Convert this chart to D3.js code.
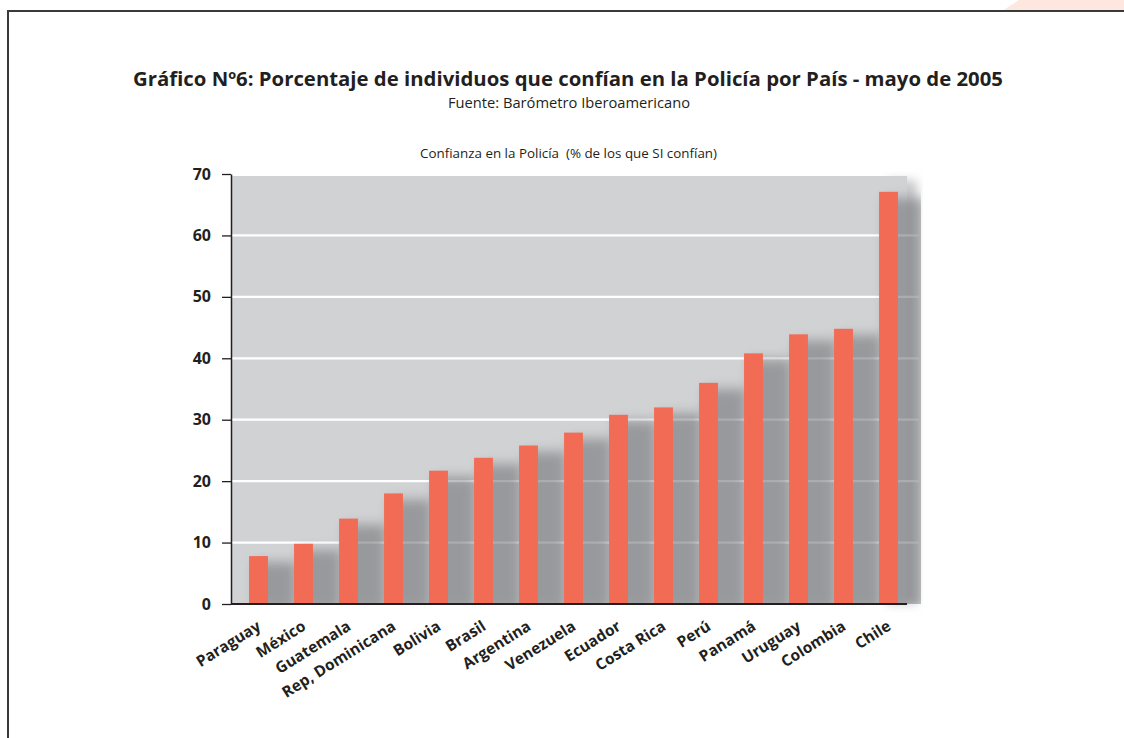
<!DOCTYPE html>
<html>
<head>
<meta charset="utf-8">
<script src="https://cdn.jsdelivr.net/npm/d3@7"></script>
<style>
  html, body { margin: 0; padding: 0; background: #ffffff; }
  svg { display: block; }
  text { font-family: "Open Sans", "DejaVu Sans", sans-serif; fill: #231f20; }
</style>
</head>
<body>
<svg id="chart" width="1124" height="738"></svg>
<script>
// ---- data ----
const countries = ["Paraguay", "México", "Guatemala", "Rep, Dominicana", "Bolivia", "Brasil",
  "Argentina", "Venezuela", "Ecuador", "Costa Rica", "Perú", "Panamá", "Uruguay", "Colombia", "Chile"];
const confianza = [7.8, 9.8, 13.9, 18.0, 21.7, 23.8, 25.8, 27.9, 30.8, 32.0, 36.0, 40.8, 43.9, 44.8, 67.1];
const yTicks = [0, 10, 20, 30, 40, 50, 60, 70];
const titleText = "Gráfico Nº6: Porcentaje de individuos que confían en la Policía por País - mayo de 2005";
const sourceText = "Fuente: Barómetro Iberoamericano";
const subtitleText = "Confianza en la Policía  (% de los que SI confían)";

const data = countries.map((c, i) => ({ country: c, value: confianza[i] }));

const svg = d3.select("#chart");

// defs: filters
const defs = svg.append("defs");
const sh = defs.append("filter").attr("id", "barShadow")
  .attr("x", "-100%").attr("y", "-20%").attr("width", "300%").attr("height", "140%");
sh.append("feGaussianBlur").attr("stdDeviation", 6);

const edge = defs.append("filter").attr("id", "edgeShadow")
  .attr("x", "-20%").attr("y", "-20%").attr("width", "140%").attr("height", "140%");
edge.append("feGaussianBlur").attr("stdDeviation", 5);

// peach corner at the top right
svg.append("polygon")
  .attr("points", "1002,11 1019,0 1124,0 1124,11")
  .attr("fill", "#fde7de");

// frame
svg.append("rect")
  .attr("x", 8).attr("y", 11).attr("width", 1140).attr("height", 760)
  .attr("fill", "none").attr("stroke", "#3a3a3a").attr("stroke-width", 2);

// scales
const x = d3.scaleBand().domain(countries).range([236, 911])
  .paddingInner(0.58).paddingOuter(0.29);
const y = d3.scaleLinear().domain([0, 70]).range([604, 174]);

const plotL = 232, plotR = 907, plotTop = y(70) + 2;

// titles
svg.append("text")
  .attr("x", 133).attr("y", 86)
  .attr("textLength", 870).attr("lengthAdjust", "spacingAndGlyphs")
  .style("font-size", "20px").style("font-weight", "bold")
  .text(titleText);

svg.append("text")
  .attr("x", 448).attr("y", 108)
  .attr("textLength", 242).attr("lengthAdjust", "spacingAndGlyphs")
  .style("font-size", "14px")
  .text(sourceText);

svg.append("text")
  .attr("x", 420).attr("y", 158)
  .attr("textLength", 297).attr("lengthAdjust", "spacingAndGlyphs")
  .style("font-size", "12.5px").style("white-space", "pre")
  .text(subtitleText);

// soft shadow to the right of the plot background
svg.append("rect")
  .attr("x", plotR - 20).attr("y", plotTop + 4)
  .attr("width", 30).attr("height", y(0) - plotTop - 4)
  .attr("fill", "#c9cacc").attr("filter", "url(#edgeShadow)");

// plot background
svg.append("rect")
  .attr("x", plotL).attr("y", plotTop)
  .attr("width", plotR - plotL).attr("height", y(0) - plotTop)
  .attr("fill", "#d1d2d4");

// gridlines
svg.append("g")
  .selectAll("line")
  .data(yTicks.filter(t => t > 0 && t < 70))
  .join("line")
  .attr("x1", plotL).attr("x2", plotR + 12)
  .attr("y1", d => y(d)).attr("y2", d => y(d))
  .attr("stroke", "#ffffff").attr("stroke-width", 2.2);

// bar shadows
const clip = defs.append("clipPath").attr("id", "plotClip");
clip.append("rect").attr("x", plotL).attr("y", plotTop - 20)
  .attr("width", plotR - plotL + 14).attr("height", y(0) - plotTop + 20);

svg.append("g").attr("clip-path", "url(#plotClip)")
  .selectAll("rect")
  .data(data)
  .join("rect")
  .attr("x", d => x(d.country) + 6)
  .attr("y", d => y(d.value) + 6)
  .attr("width", x.bandwidth() + 22)
  .attr("height", d => y(0) - y(d.value))
  .attr("fill", "#6f7174")
  .attr("opacity", 0.58)
  .attr("filter", "url(#barShadow)");

// bars
svg.append("g")
  .selectAll("rect")
  .data(data)
  .join("rect")
  .attr("x", d => x(d.country))
  .attr("y", d => y(d.value))
  .attr("width", x.bandwidth())
  .attr("height", d => y(0) - y(d.value))
  .attr("fill", "#f26c55");

// y axis
const yAxis = svg.append("g")
  .attr("transform", `translate(${plotL - 1},0)`)
  .call(d3.axisLeft(y).tickValues(yTicks).tickSize(9).tickPadding(11).tickSizeOuter(0));
yAxis.select(".domain").attr("stroke", "#231f20").attr("stroke-width", 1.5);
yAxis.selectAll(".tick line").attr("stroke", "#231f20").attr("stroke-width", 1.3);
yAxis.selectAll(".tick text")
  .style("font-size", "16px").style("font-weight", "bold")
  .style("font-family", "'Open Sans', sans-serif").attr("fill", "#231f20");

// x axis line
svg.append("line")
  .attr("x1", plotL - 1).attr("x2", plotR)
  .attr("y1", y(0)).attr("y2", y(0))
  .attr("stroke", "#231f20").attr("stroke-width", 1.8);

// category labels
svg.append("g")
  .selectAll("text")
  .data(countries)
  .join("text")
  .attr("transform", d => `translate(${x(d) + x.bandwidth() / 2 + 3.5},629) rotate(-32)`)
  .attr("text-anchor", "end")
  .style("font-size", "15.5px").style("font-weight", "bold")
  .text(d => d);
</script>
</body>
</html>
